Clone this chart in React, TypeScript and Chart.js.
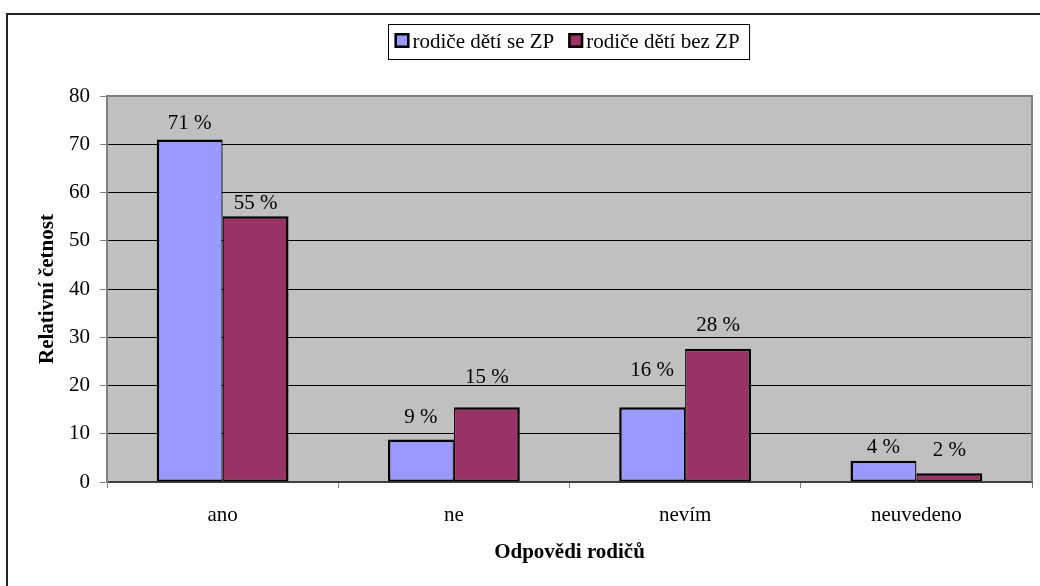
import React, { useEffect, useRef } from "react";
import { Chart, registerables } from "chart.js";

Chart.register(...registerables);

const categories = ["ano", "ne", "nevím", "neuvedeno"];
const seriesNames = ["rodiče dětí se ZP", "rodiče dětí bez ZP"];
const withZP = [71, 8.8, 15.5, 4.4];
const withoutZP = [55.1, 15.5, 27.6, 1.8];
const labelsWithZP = ["71 %", "9 %", "16 %", "4 %"];
const labelsWithoutZP = ["55 %", "15 %", "28 %", "2 %"];
const yMin = 0;
const yMax = 80;
const yStep = 10;
const yTitle = "Relativní četnost";
const xTitle = "Odpovědi rodičů";

const FONT = "'Liberation Serif', 'Times New Roman', serif";
const COLORS = ["#9999FF", "#993366"];
// vertical gap (px) between bar top and label baseline, per dataset / category
const LABEL_GAPS = [
  [10, 17, 31, 8],
  [7, 24, 18, 17],
];
const valueLabels = [labelsWithZP, labelsWithoutZP];

const decorPlugin = {
  id: "decor",
  beforeDraw(chart: any) {
    const { ctx, chartArea: a, width, height } = chart;
    ctx.save();
    ctx.fillStyle = "#ffffff";
    ctx.fillRect(0, 0, width, height);
    ctx.fillStyle = "#C0C0C0";
    ctx.fillRect(a.left, a.top, a.right - a.left, a.bottom - a.top);
    ctx.restore();
  },
  afterDatasetsDraw(chart: any) {
    const { ctx, chartArea: a } = chart;
    ctx.save();
    // plot border top & right
    ctx.strokeStyle = "#808080";
    ctx.lineWidth = 2;
    ctx.beginPath();
    ctx.moveTo(a.left, a.top);
    ctx.lineTo(a.right, a.top);
    ctx.lineTo(a.right, a.bottom);
    ctx.stroke();
    // value labels
    ctx.fillStyle = "#000";
    ctx.font = `21px ${FONT}`;
    ctx.textAlign = "center";
    ctx.textBaseline = "alphabetic";
    chart.data.datasets.forEach((ds: any, di: number) => {
      const meta = chart.getDatasetMeta(di);
      meta.data.forEach((el: any, i: number) => {
        ctx.fillText(valueLabels[di][i], el.x, el.y - LABEL_GAPS[di][i]);
      });
    });
    ctx.restore();
  },
  afterDraw(chart: any) {
    const { ctx, width, height } = chart;
    ctx.save();
    // outer frame
    ctx.strokeStyle = "#222";
    ctx.lineWidth = 2;
    ctx.beginPath();
    ctx.moveTo(7, height);
    ctx.lineTo(7, 14);
    ctx.lineTo(width, 14);
    ctx.stroke();
    // legend
    ctx.font = `21px ${FONT}`;
    const ds = chart.data.datasets;
    const sq = 15;
    const gapSq = 3;
    const gapItem = 14;
    const padL = 6;
    const padR = 10;
    const widths = ds.map((d: any) => ctx.measureText(d.label).width);
    let content = 0;
    widths.forEach((w: number, i: number) => {
      content += sq + gapSq + w + (i < widths.length - 1 ? gapItem : 0);
    });
    const boxW = padL + content + padR;
    const cx = 569;
    const boxL = Math.round(cx - boxW / 2) + 0.5;
    const boxT = 24.5;
    const boxH = 35;
    ctx.strokeStyle = "#000";
    ctx.lineWidth = 1;
    ctx.strokeRect(boxL, boxT, boxW, boxH);
    let x = boxL + padL;
    ds.forEach((d: any, i: number) => {
      ctx.fillStyle = d.backgroundColor;
      ctx.fillRect(x, 33, sq, sq);
      ctx.strokeStyle = "#000";
      ctx.lineWidth = 2.5;
      ctx.strokeRect(x + 1.25, 34.25, sq - 2.5, sq - 2.5);
      ctx.fillStyle = "#000";
      ctx.textAlign = "left";
      ctx.textBaseline = "alphabetic";
      ctx.fillText(d.label, x + sq + gapSq, 48);
      x += sq + gapSq + widths[i] + gapItem;
    });
    ctx.restore();
  },
};

export default function App() {
  const ref = useRef<HTMLCanvasElement | null>(null);
  useEffect(() => {
    if (!ref.current) return;
    const chart = new Chart(ref.current, {
      type: "bar",
      data: {
        labels: categories,
        datasets: [
          {
            label: seriesNames[0],
            data: withZP,
            backgroundColor: COLORS[0],
            borderColor: "#000",
            borderWidth: { top: 2.5, left: 2.5, right: 1.25, bottom: 2 } as any,
            borderSkipped: false,
          },
          {
            label: seriesNames[1],
            data: withoutZP,
            backgroundColor: COLORS[1],
            borderColor: "#000",
            borderWidth: { top: 2.5, left: 1.25, right: 2.5, bottom: 2 } as any,
            borderSkipped: false,
          },
        ],
      },
      options: {
        responsive: false,
        animation: false,
        devicePixelRatio: 1,
        layout: { padding: { top: 96, left: 8, right: 8, bottom: 0 } },
        datasets: {
          bar: { categoryPercentage: 0.57, barPercentage: 1 },
        },
        plugins: {
          legend: { display: false },
          tooltip: { enabled: false },
        },
        scales: {
          x: {
            type: "category",
            offset: true,
            grid: {
              offset: true,
              drawOnChartArea: false,
              drawTicks: true,
              tickLength: 6,
              color: "#808080",
            },
            border: { color: "#404040", width: 2 },
            ticks: {
              color: "#000",
              font: { family: FONT, size: 21 },
              padding: 15,
              maxRotation: 0,
            },
            title: {
              display: true,
              text: xTitle,
              color: "#000",
              font: { family: FONT, size: 21, weight: "bold" },
              padding: { top: 0, bottom: 21 },
            },
            afterFit(scale: any) {
              scale.height = 104;
            },
          },
          y: {
            min: yMin,
            max: yMax,
            ticks: {
              stepSize: yStep,
              color: "#000",
              font: { family: FONT, size: 21 },
              padding: 10,
            },
            grid: {
              color: "#000",
              lineWidth: 1,
              tickLength: 7,
              tickColor: "#808080",
            },
            border: { color: "#808080", width: 2 },
            title: {
              display: true,
              text: yTitle,
              color: "#000",
              font: { family: FONT, size: 21, weight: "bold" },
              padding: { top: 27, bottom: 0 },
            },
            afterFit(scale: any) {
              scale.width = 99;
            },
          },
        },
      },
      plugins: [decorPlugin],
    });
    return () => chart.destroy();
  }, []);
  return (
    <div style={{ position: "absolute", left: 0, top: 0, width: 1040, height: 586 }}>
      <canvas ref={ref} width={1040} height={586} style={{ display: "block" }} />
    </div>
  );
}
